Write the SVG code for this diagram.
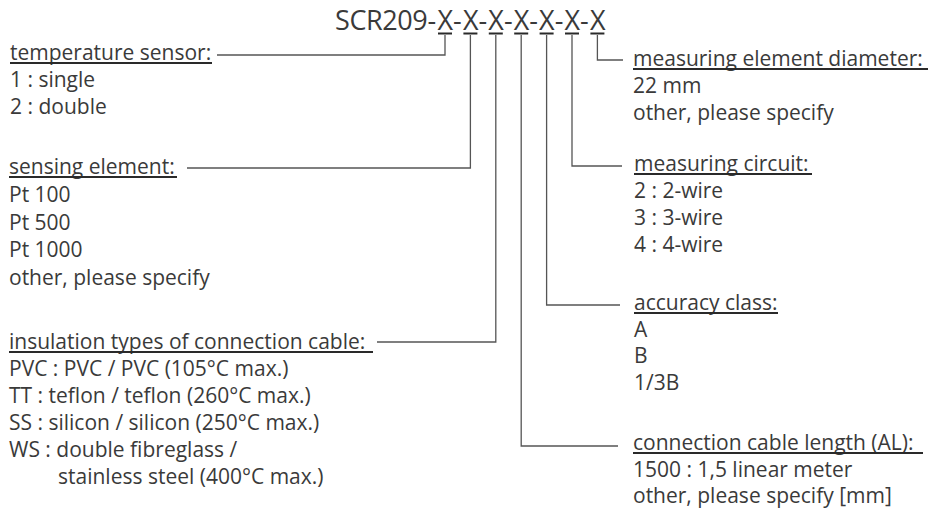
<svg xmlns="http://www.w3.org/2000/svg" width="930" height="515" viewBox="0 0 930 515">
<style>
text{font-family:"Open Sans","Liberation Sans",sans-serif;fill:#3a3a3a;font-size:21px}
.title{font-size:27px}
.ul{stroke:#2a2a2a;stroke-width:2}
.con{fill:none;stroke:#555;stroke-width:1.3}
</style>
<rect width="930" height="515" fill="#fff"/>
<g id="code">
<text class="title" y="30"><tspan x="335" letter-spacing="-0.4">SCR209-</tspan><tspan x="437.5">X</tspan><tspan>-</tspan><tspan x="462.9">X</tspan><tspan>-</tspan><tspan x="488.3">X</tspan><tspan>-</tspan><tspan x="513.7">X</tspan><tspan>-</tspan><tspan x="539.1">X</tspan><tspan>-</tspan><tspan x="564.5">X</tspan><tspan>-</tspan><tspan x="589.9">X</tspan></text>
<path class="ul" d="M438,33.5h14M463.4,33.5h14M488.8,33.5h14M514.2,33.5h14M539.6,33.5h14M565,33.5h14M590.4,33.5h14"/>
</g>
<g id="connectors">
<path class="con" d="M445,35V55H217"/>
<path class="con" d="M470.4,35V168H187"/>
<path class="con" d="M495.8,35V342H377"/>
<path class="con" d="M521.2,35V446H618"/>
<path class="con" d="M546.6,35V305H620"/>
<path class="con" d="M572,35V166H622"/>
<path class="con" d="M597.4,35V60H623"/>
</g>
<g id="temperature-sensor">
<text x="10" y="60">temperature sensor:</text>
<path class="ul" d="M10,63H212"/>
<text x="10" y="87">1 : single</text>
<text x="10" y="114">2 : double</text>
</g>
<g id="sensing-element">
<text x="9" y="174">sensing element:</text>
<path class="ul" d="M9,177H177"/>
<text x="9" y="202">Pt 100</text>
<text x="9" y="229.5">Pt 500</text>
<text x="9" y="257">Pt 1000</text>
<text x="9" y="284.5">other, please specify</text>
</g>
<g id="insulation">
<text x="9" y="349">insulation types of connection cable:</text>
<path class="ul" d="M9,352H373"/>
<text x="9" y="376">PVC : PVC / PVC (105°C max.)</text>
<text x="9" y="403">TT : teflon / teflon (260°C max.)</text>
<text x="9" y="430">SS : silicon / silicon (250°C max.)</text>
<text x="9" y="457">WS : double fibreglass /</text>
<text x="58" y="484">stainless steel (400°C max.)</text>
</g>
<g id="diameter">
<text x="633" y="66">measuring element diameter:</text>
<path class="ul" d="M633,69H928"/>
<text x="633" y="93">22 mm</text>
<text x="633" y="120">other, please specify</text>
</g>
<g id="circuit">
<text x="634" y="171">measuring circuit:</text>
<path class="ul" d="M634,174H812"/>
<text x="634" y="198">2 : 2-wire</text>
<text x="634" y="225">3 : 3-wire</text>
<text x="634" y="252">4 : 4-wire</text>
</g>
<g id="accuracy">
<text x="634" y="310">accuracy class:</text>
<path class="ul" d="M634,313H778"/>
<text x="634" y="336.5">A</text>
<text x="634" y="363">B</text>
<text x="634" y="389.5">1/3B</text>
</g>
<g id="cable-length">
<text x="633" y="450">connection cable length (AL):</text>
<path class="ul" d="M633,453H923"/>
<text x="633" y="477">1500 : 1,5 linear meter</text>
<text x="633" y="503">other, please specify [mm]</text>
</g>
</svg>
